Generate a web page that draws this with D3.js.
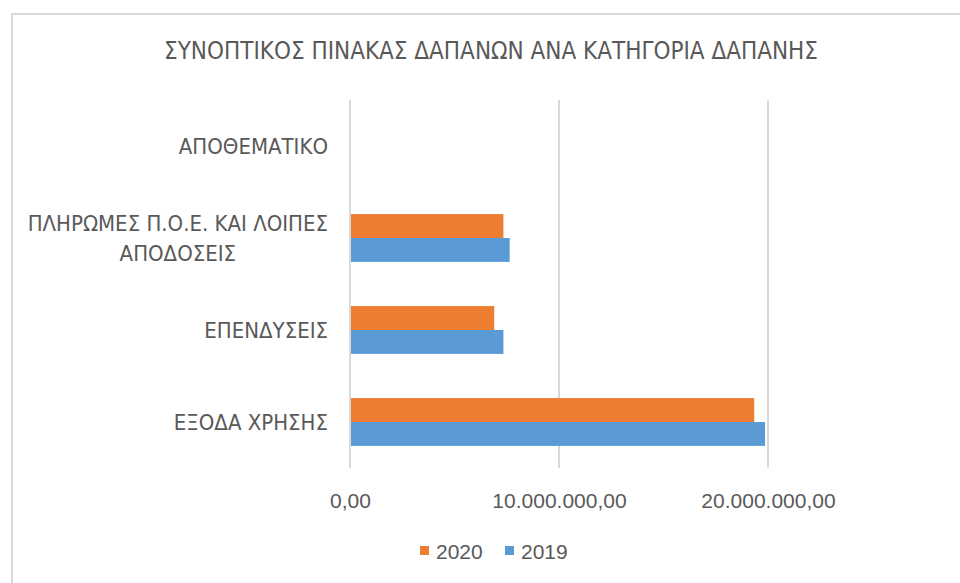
<!DOCTYPE html>
<html>
<head>
<meta charset="utf-8">
<script src="https://cdn.jsdelivr.net/npm/d3@7"></script>
<style>
  body { margin: 0; background: #fff; }
  text { font-family: "Liberation Sans Narrow", "DejaVu Sans Condensed", "Open Sans", sans-serif; fill: #595959; }
</style>
</head>
<body>
<div id="chart"></div>
<script>
// data (values in euro)
var categories = ["ΑΠΟΘΕΜΑΤΙΚΟ", "ΠΛΗΡΩΜΕΣ Π.Ο.Ε. ΚΑΙ ΛΟΙΠΕΣ ΑΠΟΔΟΣΕΙΣ", "ΕΠΕΝΔΥΣΕΙΣ", "ΕΞΟΔΑ ΧΡΗΣΗΣ"]
var categoryLines = [["ΑΠΟΘΕΜΑΤΙΚΟ"], ["ΠΛΗΡΩΜΕΣ Π.Ο.Ε. ΚΑΙ ΛΟΙΠΕΣ", "ΑΠΟΔΟΣΕΙΣ"], ["ΕΠΕΝΔΥΣΕΙΣ"], ["ΕΞΟΔΑ ΧΡΗΣΗΣ"]]
var seriesNames = ["2020", "2019"]
var values2020 = [0, 7340000, 6900000, 19340000]
var values2019 = [0, 7640000, 7340000, 19860000]
var tickValues = [0, 10000000, 20000000]
var tickLabels = ["0,00", "10.000.000,00", "20.000.000,00"]
var seriesColors = ["#ED7D31", "#5B9BD5"]

var W = 960, H = 583
var margin = {top: 100, right: 192, bottom: 115, left: 350}
var width = W - margin.left - margin.right
var height = H - margin.top - margin.bottom

var svg = d3.select("#chart")
    .append("svg")
        .attr("width", W)
        .attr("height", H)

// chart frame
svg.append("rect")
    .attr("x", 12).attr("y", 14)
    .attr("width", 1000).attr("height", 700)
    .attr("fill", "none")
    .attr("stroke", "#d9d9d9")
    .attr("stroke-width", 2)

svg.append("text")
    .attr("x", 491).attr("y", 59)
    .attr("text-anchor", "middle")
    .style("font-size", "24px")
    .text("ΣΥΝΟΠΤΙΚΟΣ ΠΙΝΑΚΑΣ ΔΑΠΑΝΩΝ ΑΝΑ ΚΑΤΗΓΟΡΙΑ ΔΑΠΑΝΗΣ")

var g = svg.append("g")
    .attr("transform", "translate(" + margin.left + "," + margin.top + ")")

var xVerdi = d3.scaleLinear()
    .domain([0, 20000000])
    .range([0, 418])

var yVerdi = d3.scaleBand()
    .domain(categories)
    .range([0, height])
    .paddingInner(0.48)
    .paddingOuter(0.24)

var ySerie = d3.scaleBand()
    .domain(seriesNames)
    .range([0, yVerdi.bandwidth()])

// gridlines
g.selectAll(".grid")
    .data(tickValues)
    .enter()
    .append("line")
    .attr("class", "grid")
    .attr("x1", function(d){return xVerdi(d)})
    .attr("x2", function(d){return xVerdi(d)})
    .attr("y1", 0)
    .attr("y2", height)
    .attr("stroke", "#d9d9d9")
    .attr("stroke-width", 2)

// x axis labels
var xAkse = g.append("g")
    .attr("transform", "translate(0," + height + ")")
    .call(d3.axisBottom(xVerdi).tickValues(tickValues).tickSize(0).tickPadding(25)
        .tickFormat(function(d, i){return tickLabels[i]}))
xAkse.select(".domain").remove()
xAkse.selectAll("text")
    .style("font-size", "21px")
    .attr("fill", "#595959")
    .style("font-family", "\"Liberation Sans\", \"Open Sans\", sans-serif")

var series = [values2020, values2019]

series.forEach(function(vals, s){
    g.selectAll(".bar" + s)
        .data(categories)
        .enter()
        .append("rect")
        .attr("class", "bar" + s)
        .attr("x", xVerdi(0) + 1)
        .attr("y", function(d){return yVerdi(d) + ySerie(seriesNames[s])})
        .attr("width", function(d, i){return Math.max(0, xVerdi(vals[i]) - xVerdi(0) - 1)})
        .attr("height", ySerie.bandwidth())
        .attr("fill", seriesColors[s])
})

// category labels
var lab = g.selectAll(".kat")
    .data(categories)
    .enter()
    .append("text")
    .attr("class", "kat")
    .attr("text-anchor", "middle")
    .style("font-size", "22px")
    .attr("transform", function(d){return "translate(0," + (yVerdi(d) + yVerdi.bandwidth() / 2) + ")"})

lab.each(function(d, i){
    var lines = categoryLines[i]
    var t = d3.select(this)
    var lh = 30
    lines.forEach(function(l, j){
        t.append("tspan")
            .attr("y", (j - (lines.length - 1) / 2) * lh + 8)
            .text(l)
    })
})
// right align lines as a block, centre each line inside the widest one
lab.each(function(){
    var t = d3.select(this)
    var w = d3.max(t.selectAll("tspan").nodes(), function(n){return n.getComputedTextLength()})
    t.selectAll("tspan").attr("x", -22 - w / 2)
})

// legend
var leg = svg.append("g").attr("transform", "translate(420,545)")
seriesNames.forEach(function(n, i){
    var lg = leg.append("g").attr("transform", "translate(" + (i * 85) + ",0)")
    lg.append("rect").attr("width", 9).attr("height", 9).attr("y", 1).attr("fill", seriesColors[i])
    lg.append("text").attr("x", 16).attr("y", 14)
        .style("font-size", "21px")
        .style("font-family", "\"Liberation Sans\", \"Open Sans\", sans-serif")
        .text(n)
})
</script>
</body>
</html>
